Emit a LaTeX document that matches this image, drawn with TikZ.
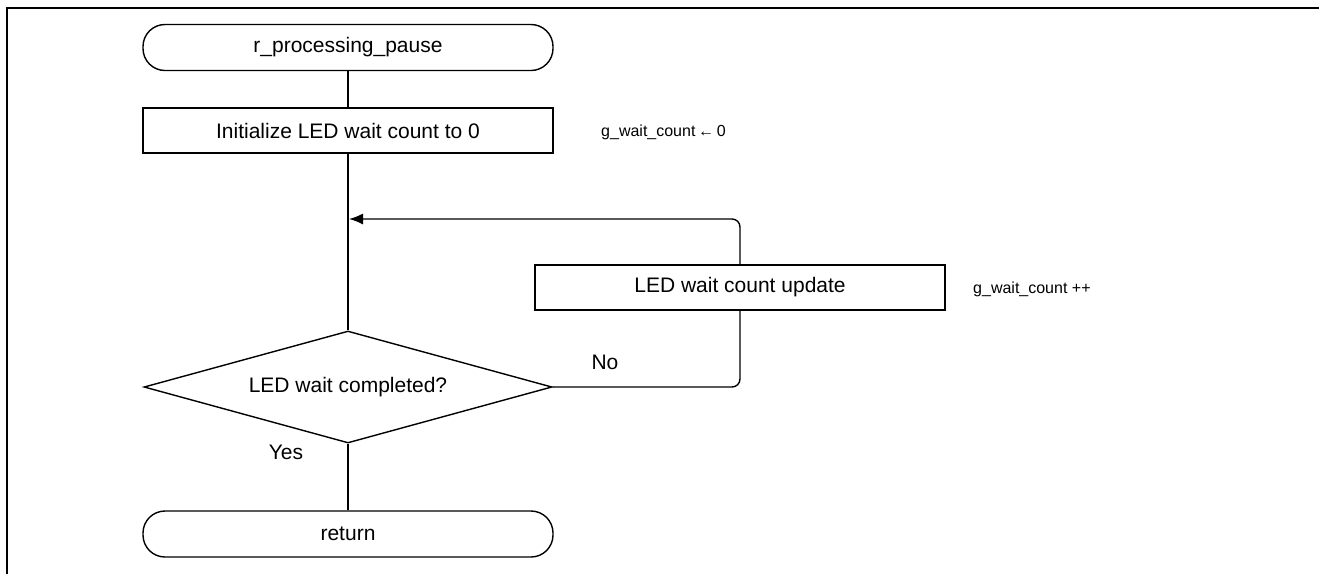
\documentclass[tikz,border=0pt]{standalone}
\usepackage{fontspec}
\setmainfont{Liberation Sans}
\usetikzlibrary{shapes.geometric,arrows.meta}
\tikzset{
  shapeline/.style={draw=black, line width=1.4pt},
  termbox/.style={shapeline, rounded corners=22pt, minimum width=410pt, minimum height=46pt, inner sep=0pt, font=\fontsize{21}{24}\selectfont},
  procbox/.style={shapeline, rectangle, minimum width=410pt, minimum height=45pt, inner sep=0pt, font=\fontsize{21}{24}\selectfont},
  decbox/.style={shapeline, diamond, aspect=3.6, minimum width=408pt, minimum height=112pt, inner sep=0pt, font=\fontsize{21}{24}\selectfont},
  conn/.style={line width=1.4pt, rounded corners=8pt},
  note/.style={anchor=west, inner sep=0pt, font=\fontsize{16}{18}\selectfont},
  lbl/.style={inner sep=0pt, font=\fontsize{21}{24}\selectfont},
  frameline/.style={line width=2pt}
}
\begin{document}
\begin{tikzpicture}[x=1pt,y=-1pt]
\useasboundingbox (0,0) rectangle (1319,574);
% frame
\coordinate (fTR) at (1319,7.5);
\coordinate (fTL) at (7,7.5);
\coordinate (fBL) at (7,574);
\draw[frameline] (fTR) -- (fTL) -- (fBL);
% nodes
\node[termbox] (start) at (348,47.5) {r\_processing\_pause};
\node[procbox] (init) at (348,130.5) {Initialize LED wait count to 0};
\node[note] (n1) at (601,132) {g\_wait\_count\,←\,0};
\node[decbox] (dec) at (348,387) {LED wait completed?};
\node[procbox] (upd) at (740,287.5) {LED wait count update};
\node[note] (n2) at (973,289) {g\_wait\_count ++};
\node[termbox] (ret) at (348,534) {return};
\coordinate (join) at (348,219);
% labels
\node[lbl] (no) at (605,362) {No};
\node[lbl] (yes) at (286,452) {Yes};
% connectors
\draw[conn] (start.south) -- (init.north);
\draw[conn] (init.south) -- (dec.north);
\draw[conn] (dec.south) -- (ret.north);
\draw[conn] (dec.east) -| (upd.south);
\draw[conn, -{Latex[length=14pt,width=11pt]}] (upd.north) |- ([xshift=1pt]join);
\end{tikzpicture}
\end{document}
